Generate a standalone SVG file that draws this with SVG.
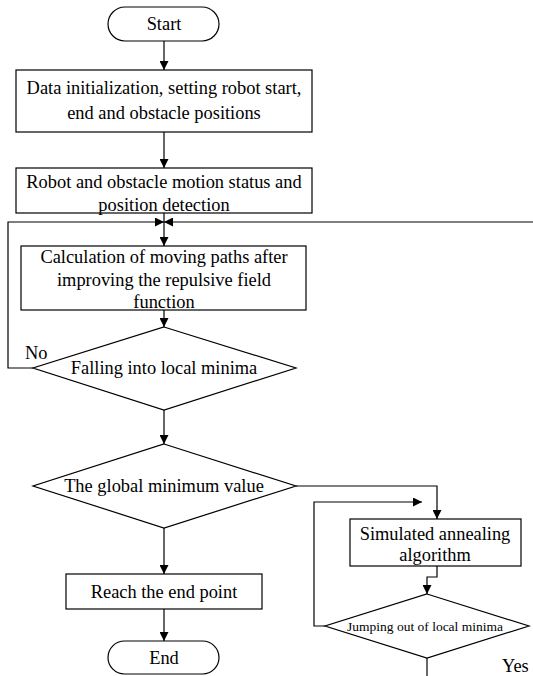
<svg xmlns="http://www.w3.org/2000/svg" width="533" height="676" viewBox="0 0 533 676">
  <style>
    .shape { fill: #ffffff; stroke: #000000; stroke-width: 1.2; }
    .wire { fill: none; stroke: #000000; stroke-width: 1.2; }
    .t { font-family: 'Liberation Serif', 'Times New Roman', serif; font-size: 18.4px; fill: #000000; text-anchor: middle; }
    .lbl { text-anchor: start; }
    .small { font-size: 13.5px; }
  </style>
  <defs>
    <marker id="arrow" viewBox="0 0 10 10" refX="10" refY="5" markerWidth="9" markerHeight="9" markerUnits="userSpaceOnUse" orient="auto">
      <path d="M0,0 L10,5 L0,10 Z" fill="#000000"/>
    </marker>
  </defs>
  <rect width="533" height="676" fill="#ffffff"/>

  <g id="connectors">
    <line class="wire" x1="164" y1="41" x2="164" y2="70" marker-end="url(#arrow)"/>
    <line class="wire" x1="164" y1="132" x2="164" y2="168" marker-end="url(#arrow)"/>
    <line class="wire" x1="164" y1="213" x2="164" y2="246" marker-end="url(#arrow)"/>
    <!-- feedback from the "No" branch -->
    <polyline class="wire" points="33,368 8,368 8,222 164,222" marker-end="url(#arrow)"/>
    <!-- return path entering from the right edge -->
    <polyline class="wire" points="533,222 164,222" marker-end="url(#arrow)"/>
    <line class="wire" x1="164" y1="310" x2="164" y2="327" marker-end="url(#arrow)"/>
    <line class="wire" x1="164" y1="410" x2="164" y2="444" marker-end="url(#arrow)"/>
    <line class="wire" x1="164" y1="528" x2="164" y2="574" marker-end="url(#arrow)"/>
    <line class="wire" x1="164" y1="609" x2="164" y2="641" marker-end="url(#arrow)"/>
    <polyline class="wire" points="296,486 437,486 437,519" marker-end="url(#arrow)"/>
    <polyline class="wire" points="437,566 437,577 427,577 427,594" marker-end="url(#arrow)"/>
    <polyline class="wire" points="325,626 314,626 314,502 422,502" marker-end="url(#arrow)"/>
    <line class="wire" x1="427" y1="658" x2="427" y2="676"/>
    <text class="t lbl" x="25" y="359">No</text>
    <text class="t lbl" x="502" y="672">Yes</text>
  </g>

  <g id="start">
    <rect class="shape" x="108" y="7" width="111" height="34" rx="17" ry="17"/>
    <text class="t" x="164" y="30">Start</text>
  </g>

  <g id="init">
    <rect class="shape" x="16" y="70" width="296" height="62"/>
    <text class="t" x="164" y="94">Data initialization, setting robot start,</text>
    <text class="t" x="164" y="119">end and obstacle positions</text>
  </g>

  <g id="detect">
    <rect class="shape" x="16" y="168" width="296" height="45"/>
    <text class="t" x="164" y="188">Robot and obstacle motion status and</text>
    <text class="t" x="164" y="211">position detection</text>
  </g>

  <g id="calc">
    <rect class="shape" x="21" y="246" width="285" height="64"/>
    <text class="t" x="164" y="263">Calculation of moving paths after</text>
    <text class="t" x="164" y="286">improving the repulsive field</text>
    <text class="t" x="164" y="308">function</text>
  </g>

  <g id="local-minima">
    <polygon class="shape" points="164,327 296,368 164,410 33,368"/>
    <text class="t" x="164" y="374">Falling into local minima</text>
  </g>

  <g id="global-minimum">
    <polygon class="shape" points="164,444 296,486 164,528 33,486"/>
    <text class="t" x="164" y="492">The global minimum value</text>
  </g>

  <g id="reach-end">
    <rect class="shape" x="66" y="574" width="196" height="35"/>
    <text class="t" x="164" y="598">Reach the end point</text>
  </g>

  <g id="end">
    <rect class="shape" x="108" y="641" width="111" height="33" rx="16.5" ry="16.5"/>
    <text class="t" x="164" y="664">End</text>
  </g>

  <g id="annealing">
    <rect class="shape" x="350" y="519" width="171" height="47"/>
    <text class="t" x="435" y="540">Simulated annealing</text>
    <text class="t" x="435" y="561">algorithm</text>
  </g>

  <g id="jump-out">
    <polygon class="shape" points="427,594 529,626 427,658 325,626"/>
    <text class="t small" x="425" y="631">Jumping out of local minima</text>
  </g>
</svg>
